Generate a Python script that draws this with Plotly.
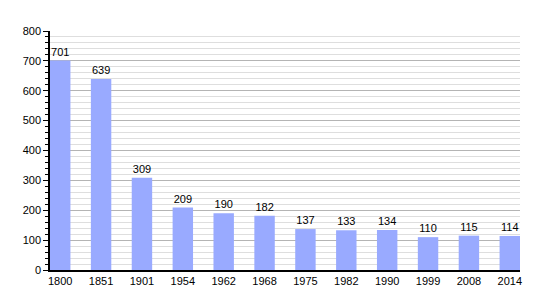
import plotly.graph_objects as go

years = ["1800", "1851", "1901", "1954", "1962", "1968", "1975", "1982", "1990", "1999", "2008", "2014"]
population = [701, 639, 309, 209, 190, 182, 137, 133, 134, 110, 115, 114]
y_ticks = [0, 100, 200, 300, 400, 500, 600, 700, 800]

font = dict(family="Liberation Sans, Arial, sans-serif", size=11, color="black")

fig = go.Figure()
fig.add_trace(go.Bar(
    x=years, y=population, text=[str(v) for v in population],
    textposition="outside", textfont=font, cliponaxis=False,
    marker=dict(color="#99AAFF", line=dict(width=0)), width=0.5,
    showlegend=False,
))

fig.update_layout(
    width=550, height=300,
    margin=dict(l=50, r=30, t=31, b=30),
    paper_bgcolor="white", plot_bgcolor="white",
    font=font,
    xaxis=dict(
        type="category", range=[-0.25, 11.25],
        showline=True, linecolor="black", linewidth=1.5,
        ticks="", showgrid=False, tickfont=font,
    ),
    yaxis=dict(
        range=[0, 800], tickvals=y_ticks, ticktext=[str(v) for v in y_ticks],
        showline=True, linecolor="black", linewidth=1.5,
        ticks="outside", ticklen=5, tickcolor="black",
        showgrid=True, gridcolor="#b4b4b4", gridwidth=1,
        zeroline=False, tickfont=font,
        minor=dict(dtick=20, tick0=0, ticks="outside", ticklen=3, tickcolor="black",
                   showgrid=True, gridcolor="#dedede", gridwidth=1),
    ),
)

fig.write_html("out.html")
